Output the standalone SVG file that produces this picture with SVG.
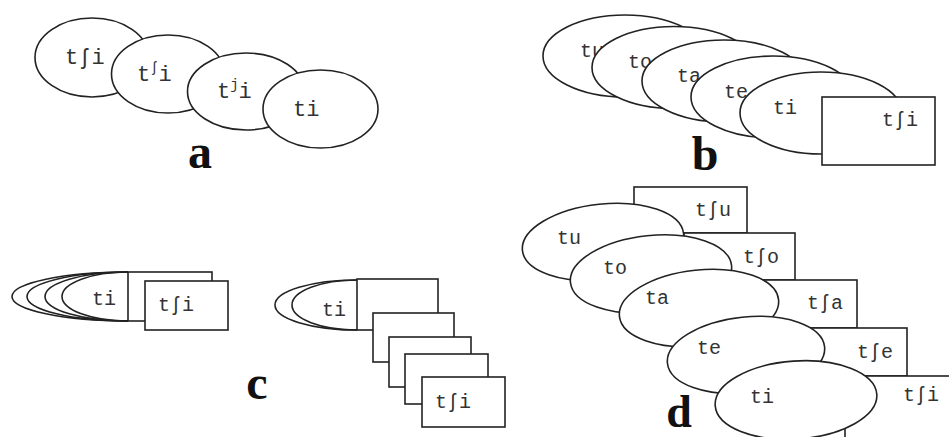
<svg xmlns="http://www.w3.org/2000/svg" width="949" height="437" viewBox="0 0 949 437">
<style>
.s{fill:#fff;stroke:#222;stroke-width:1.6}
.o{fill:none;stroke:#222;stroke-width:1.6}
.t{font-family:"Liberation Mono","DejaVu Sans Mono",monospace;font-size:20px;fill:#333}
.ta{font-size:22px}
.sup{font-size:14px}
.l{font-family:"Liberation Serif","Times New Roman",serif;font-weight:bold;font-size:48px;fill:#111;text-anchor:middle}
</style>
<rect width="949" height="437" fill="#fff"/>
<g id="panel-a">
<g id="a1"><ellipse class="s" cx="92" cy="57.5" rx="57" ry="39.5"/><text class="t ta" x="65" y="64">tʃi</text></g>
<g id="a2"><ellipse class="s" cx="168" cy="74" rx="56.5" ry="39"/><text class="t ta" x="137" y="81">t<tspan class="sup" dy="-9">ʃ</tspan><tspan dy="9">i</tspan></text></g>
<g id="a3"><ellipse class="s" cx="246" cy="91.5" rx="58.5" ry="38.5"/><text class="t ta" x="217" y="98">t<tspan class="sup" dy="-9">j</tspan><tspan dy="9">i</tspan></text></g>
<g id="a4"><ellipse class="s" cx="320.5" cy="109" rx="57.5" ry="39"/><text class="t ta" x="293" y="116">ti</text></g>
<text class="l" x="200" y="168">a</text>
</g>
<g id="panel-b">
<g id="b-tu"><ellipse class="s" cx="625" cy="56" rx="82" ry="41"/><text class="t" x="580" y="57">tu</text></g>
<g id="b-to"><ellipse class="s" cx="674" cy="67.5" rx="82" ry="41"/><text class="t" x="628" y="68">to</text></g>
<g id="b-ta"><ellipse class="s" cx="724" cy="81" rx="82" ry="41"/><text class="t" x="677" y="82">ta</text></g>
<g id="b-te"><ellipse class="s" cx="773" cy="97" rx="82" ry="41"/><text class="t" x="724" y="98">te</text></g>
<g id="b-ti"><ellipse class="s" cx="821" cy="113" rx="81" ry="41"/><text class="t" x="773" y="114">ti</text></g>
<g id="b-tshi"><rect class="s" x="822" y="97" width="113" height="68"/><text class="t" x="882" y="126">tʃi</text></g>
<text class="l" x="705" y="170">b</text>
</g>
<g id="panel-c">
<g id="c1">
<path class="o" d="M128 272 A116 24.5 0 0 0 128 321"/>
<path class="o" d="M128 272 A101 24.5 0 0 0 128 321"/>
<path class="o" d="M128 272 A83 24.5 0 0 0 128 321"/>
<path class="o" d="M128 272 A66 24.5 0 0 0 128 321"/>
<rect class="s" x="128" y="272" width="84" height="49"/>
<text class="t" x="92" y="305">ti</text>
<rect class="s" x="145" y="281" width="83" height="49"/>
<text class="t" x="158" y="311">tʃi</text>
</g>
<g id="c2">
<path class="o" d="M357 280 A82 25 0 0 0 357 330"/>
<path class="o" d="M357 280 A65 25 0 0 0 357 330"/>
<rect class="s" x="357" y="279" width="81" height="51"/>
<text class="t" x="322" y="316">ti</text>
<rect class="s" x="373" y="313" width="81" height="49"/>
<rect class="s" x="389" y="337" width="82" height="50"/>
<rect class="s" x="405" y="354" width="83" height="50"/>
<rect class="s" x="422" y="377" width="83" height="50"/>
<text class="t" x="435" y="408">tʃi</text>
</g>
<text class="l" x="257" y="399">c</text>
</g>
<g id="panel-d">
<g id="d-rects">
<g id="d-tshu"><rect class="s" x="634" y="187" width="113" height="46"/><text class="t" x="695" y="216">tʃu</text></g>
<g id="d-tsho"><rect class="s" x="684" y="233" width="111" height="47"/><text class="t" x="743" y="263">tʃo</text></g>
<g id="d-tsha"><rect class="s" x="745" y="280" width="112" height="48"/><text class="t" x="807" y="309">tʃa</text></g>
<g id="d-tshe"><rect class="s" x="795" y="328" width="112" height="48"/><text class="t" x="857" y="358">tʃe</text></g>
<g id="d-tshi"><rect class="s" x="845" y="376" width="120" height="70"/><text class="t" x="903" y="401">tʃi</text></g>
</g>
<g id="d-tu"><ellipse class="s" cx="603" cy="242" rx="81" ry="38" transform="rotate(-6 603 242)"/><text class="t" x="557" y="244">tu</text></g>
<g id="d-to"><ellipse class="s" cx="651" cy="274" rx="81" ry="38.5" transform="rotate(-6 651 274)"/><text class="t" x="603" y="274">to</text></g>
<g id="d-ta"><ellipse class="s" cx="699" cy="308" rx="80" ry="38" transform="rotate(-6 699 308)"/><text class="t" x="645" y="304">ta</text></g>
<g id="d-te"><ellipse class="s" cx="746" cy="355" rx="79" ry="38" transform="rotate(-6 746 355)"/><text class="t" x="697" y="354">te</text></g>
<g id="d-ti"><ellipse class="s" cx="796" cy="400" rx="81" ry="39" transform="rotate(-4 796 400)"/><text class="t" x="750" y="403">ti</text></g>
<text class="l" x="679" y="427" style="font-size:46px">d</text>
</g>
</svg>
